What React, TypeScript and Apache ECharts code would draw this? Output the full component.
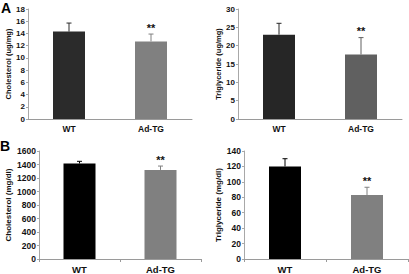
import React, { useEffect, useRef } from "react";
import * as echarts from "echarts";

const categories = ["WT", "Ad-TG"];
const significance = ["", "**"];

const cholTissue = [14.3, 12.7];
const cholTissueErr = [1.4, 1.2];
const tgTissue = [23.0, 17.6];
const tgTissueErr = [3.1, 4.6];
const cholPlasma = [1415, 1320];
const cholPlasmaErr = [32, 57];
const tgPlasma = [120, 83];
const tgPlasmaErr = [10, 10];

const yMax = [18, 30, 1600, 140];
const yInterval = [2, 5, 200, 20];
const yNames = [
  "Cholesterol (ug/mg)",
  "Triglyceride (ug/mg)",
  "Cholesterol (mg/dl)",
  "Triglyceride (mg/dl)",
];

const FONT = "'Liberation Sans', Arial, sans-serif";

export default function App() {
  const ref = useRef<HTMLDivElement>(null);

  useEffect(() => {
    if (!ref.current) return;
    const chart = echarts.init(ref.current, null, { renderer: "svg" });

    const panels = [
      {
        values: cholTissue, errs: cholTissueErr,
        grid: { left: 28, top: 9, width: 164, height: 110 },
        colors: ["#2b2b2b", "#808080"], tickFont: 8, catFont: 8.5, nameFont: 7.5, nameGap: 16, xTicks: false,
      },
      {
        values: tgTissue, errs: tgTissueErr,
        grid: { left: 238, top: 9, width: 164, height: 110 },
        colors: ["#262626", "#606060"], tickFont: 8, catFont: 8.5, nameFont: 7.5, nameGap: 13, xTicks: false,
      },
      {
        values: cholPlasma, errs: cholPlasmaErr,
        grid: { left: 39, top: 151, width: 162, height: 110 },
        colors: ["#000000", "#808080"], tickFont: 8.5, catFont: 9.5, nameFont: 8, nameGap: 27, xTicks: true,
      },
      {
        values: tgPlasma, errs: tgPlasmaErr,
        grid: { left: 244, top: 151, width: 164, height: 110 },
        colors: ["#000000", "#808080"], tickFont: 8.5, catFont: 9.5, nameFont: 8, nameGap: 18, xTicks: true,
      },
    ];

    const grid = panels.map((p) => ({ ...p.grid, containLabel: false }));
    const xAxis = panels.map((p, i) => ({
      type: "category",
      gridIndex: i,
      data: categories,
      axisLine: { lineStyle: { color: "#9a9a9a", width: 1 } },
      axisTick: { show: p.xTicks, length: 3, lineStyle: { color: "#9a9a9a" } },
      axisLabel: {
        color: "#111", fontFamily: FONT, fontWeight: "bold", fontSize: p.catFont, margin: 5,
      },
    }));
    const yAxis = panels.map((p, i) => ({
      type: "value",
      gridIndex: i,
      min: 0,
      max: yMax[i],
      interval: yInterval[i],
      name: yNames[i],
      nameLocation: "middle",
      nameGap: p.nameGap,
      nameRotate: 90,
      nameTextStyle: { color: "#111", fontFamily: FONT, fontWeight: "bold", fontSize: p.nameFont },
      splitLine: { show: false },
      axisLine: { show: true, lineStyle: { color: "#a8a8a8", width: 1 } },
      axisTick: { show: true, length: 2, lineStyle: { color: "#a8a8a8" } },
      axisLabel: {
        color: "#111", fontFamily: FONT, fontWeight: "bold", fontSize: p.tickFont, margin: 3,
        formatter: (v: number) => String(v),
      },
    }));

    const series: any[] = [];
    panels.forEach((p, i) => {
      series.push({
        type: "bar",
        xAxisIndex: i,
        yAxisIndex: i,
        barWidth: 32,
        data: p.values.map((v, k) => ({ value: v, itemStyle: { color: p.colors[k] } })),
      });
      series.push({
        type: "custom",
        xAxisIndex: i,
        yAxisIndex: i,
        z: 3,
        encode: { x: 0, y: [1, 2] },
        data: p.values.map((v, k) => [k, v, v + p.errs[k]]),
        renderItem: (params: any, api: any) => {
          const idx = api.value(0);
          const base = api.coord([idx, api.value(1)]);
          const top = api.coord([idx, api.value(2)]);
          const col = p.colors[idx];
          const children: any[] = [
            { type: "line", shape: { x1: base[0], y1: base[1], x2: top[0], y2: top[1] }, style: { stroke: col, lineWidth: 1 } },
            { type: "line", shape: { x1: top[0] - 2.5, y1: top[1], x2: top[0] + 2.5, y2: top[1] }, style: { stroke: col, lineWidth: 1 } },
          ];
          const star = significance[idx];
          if (star) {
            children.push({
              type: "text",
              x: top[0],
              y: top[1] - 1,
              style: {
                text: star, fill: "#111", font: `bold 11px ${FONT}`, align: "center", verticalAlign: "bottom",
              },
            });
          }
          return { type: "group", children };
        },
      });
    });

    chart.setOption({
      animation: false,
      backgroundColor: "#ffffff",
      grid,
      xAxis,
      yAxis,
      series,
      graphic: [
        { type: "text", left: 1, top: 1, style: { text: "A", fill: "#000", font: `bold 14px ${FONT}` } },
        { type: "text", left: 0, top: 139, style: { text: "B", fill: "#000", font: `bold 14px ${FONT}` } },
      ],
    });

    return () => chart.dispose();
  }, []);

  return (
    <div
      ref={ref}
      style={{ position: "absolute", left: 0, top: 0, width: 409, height: 274 }}
    />
  );
}
